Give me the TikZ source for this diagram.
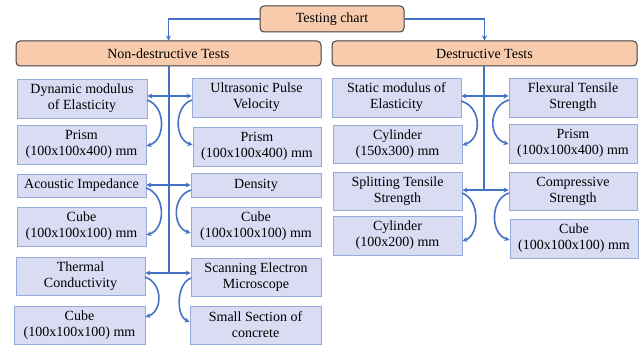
\documentclass[tikz,border=0pt]{standalone}
\usepackage{fontspec}
\setmainfont{Liberation Serif}
\usetikzlibrary{arrows.meta,calc}
\definecolor{boxfill}{RGB}{218,220,244}
\definecolor{boxline}{RGB}{150,170,215}
\definecolor{headfill}{RGB}{248,203,173}
\definecolor{headline}{RGB}{64,64,64}
\definecolor{arrblue}{RGB}{68,114,196}
\newcommand\mkbox[7]{\node[#1, minimum width={#4-#2}, minimum height={#5-#3}] (#6) at ({(#2+#4)/2},{(#3+#5)/2}) {#7};}
\begin{document}
\begin{tikzpicture}[x=1pt,y=-1pt,
  box/.style={draw=boxline, fill=boxfill, line width=0.9pt, inner sep=0pt, align=center, font=\fontsize{14}{16}\selectfont},
  head/.style={draw=headline, fill=headfill, line width=1pt, rounded corners=4pt, inner sep=0pt, align=center, font=\fontsize{14}{16}\selectfont},
  arr/.style={draw=arrblue, line width=1.6pt, -{Stealth[length=5pt,width=5pt]}},
  ln/.style={draw=arrblue, line width=1.6pt}]
\useasboundingbox (0,0) rectangle (643,345);
\mkbox{head}{260}{6}{404}{32}{tc}{Testing chart}
\mkbox{head}{16}{41}{321}{66}{nd}{Non-destructive Tests}
\mkbox{head}{332}{41}{637}{66}{de}{Destructive Tests}
\mkbox{box}{17}{79}{147}{118}{dm}{Dynamic modulus\\of Elasticity}
\mkbox{box}{17}{125}{146}{164}{pa}{Prism\\(100x100x400) mm}
\mkbox{box}{17}{174}{146}{197}{ac}{Acoustic Impedance}
\mkbox{box}{17}{207}{146}{246}{ca}{Cube\\(100x100x100) mm}
\mkbox{box}{16}{257}{145}{295}{th}{Thermal\\Conductivity}
\mkbox{box}{14}{306}{145}{344}{cb}{Cube\\(100x100x100) mm}
\mkbox{box}{192}{78}{321}{117}{upv}{Ultrasonic Pulse\\Velocity}
\mkbox{box}{193}{127}{321}{166}{pb}{Prism\\(100x100x400) mm}
\mkbox{box}{191}{173}{321}{197}{den}{Density}
\mkbox{box}{191}{207}{321}{246}{cc}{Cube\\(100x100x100) mm}
\mkbox{box}{191}{258}{321}{296}{sem}{Scanning Electron\\Microscope}
\mkbox{box}{190}{306}{321}{344}{ss}{Small Section of\\concrete}
\mkbox{box}{332}{78}{461}{117}{sm}{Static modulus of\\Elasticity}
\mkbox{box}{333}{125}{462}{163}{cya}{Cylinder\\(150x300) mm}
\mkbox{box}{333}{172}{462}{210}{sp}{Splitting Tensile\\Strength}
\mkbox{box}{333}{216}{462}{255}{cyb}{Cylinder\\(100x200) mm}
\mkbox{box}{509}{78}{637}{117}{fl}{Flexural Tensile\\Strength}
\mkbox{box}{509}{124}{637}{163}{pc}{Prism\\(100x100x400) mm}
\mkbox{box}{509}{172}{637}{210}{co}{Compressive\\Strength}
\mkbox{box}{510}{219}{638}{258}{cd}{Cube\\(100x100x100) mm}
% top connectors
\draw[arr] (tc.west) -| (nd.north);
\draw[arr] (tc.east) -| (de.north);
% trunks
\coordinate (n1) at (169,96);
\coordinate (n2) at (169,185);
\coordinate (n3) at (169,273);
\coordinate (d1) at (484,96);
\coordinate (d2) at (484,190);
\draw[ln] (nd.south -| n1) -- (n3);
\draw[ln] (de.south -| d1) -- (d2);
\foreach \c/\l/\r in {n1/dm/upv, n2/ac/den, n3/th/sem, d1/sm/fl, d2/sp/co}{
  \draw[arr] (\c) -- (\c -| \l.east);
  \draw[arr] (\c) -- (\c -| \r.west);
}
% curved arrows (left column bulge right)
\draw[arr] (147,100) .. controls (166,106) and (166,140) .. (pa.east |- 0,146);
\draw[arr] (146,188) .. controls (166,194) and (166,229) .. (ca.east |- 0,235);
\draw[arr] (145,277) .. controls (163,283) and (163,311) .. (cb.east |- 0,317);
\draw[arr] (461,101) .. controls (482,107) and (482,139) .. (cya.east |- 0,145);
\draw[arr] (462,193) .. controls (480,199) and (480,235) .. (cyb.east |- 0,241);
% curved arrows (right column bulge left)
\draw[arr] (192,100) .. controls (174,106) and (174,139) .. (pb.west |- 0,145);
\draw[arr] (191,190) .. controls (172,196) and (172,227) .. (cc.west |- 0,233);
\draw[arr] (191,278) .. controls (176,284) and (176,316) .. (ss.west |- 0,322);
\draw[arr] (509,100) .. controls (488,106) and (488,138) .. (pc.west |- 0,144);
\draw[arr] (509,193) .. controls (490,199) and (490,234) .. (cd.west |- 0,240);
\end{tikzpicture}
\end{document}
